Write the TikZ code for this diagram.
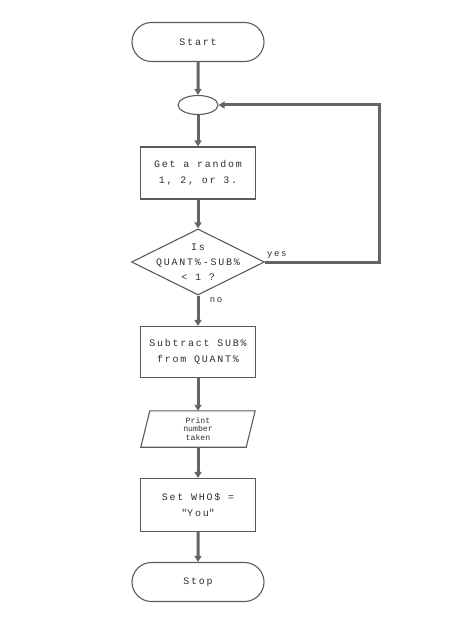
\documentclass[tikz,border=0pt]{standalone}
\usepackage{fontspec}
\setmainfont{Liberation Mono}[LetterSpace=18]
\newfontfamily\tightfont{Liberation Mono}
\usetikzlibrary{shapes.geometric,shapes.misc,arrows.meta,calc}
\definecolor{ink}{HTML}{4A4A4A}
\definecolor{edge}{HTML}{5A5A5A}
\definecolor{txt}{HTML}{2E2E2E}
\tikzset{
  shapebox/.style={draw=edge,line width=1.1bp,inner sep=0pt,align=center,font=\fontsize{10}{16}\selectfont,text=txt},
  term/.style={shapebox,rounded rectangle,minimum width=132bp,minimum height=39bp},
  procbox/.style={shapebox,rectangle,minimum width=115bp,minimum height=52bp},
  flow/.style={draw=ink!85,line width=3bp,-{Triangle[length=6bp,width=7bp]}},
  lbl/.style={font=\fontsize{9}{10}\selectfont,text=txt,inner sep=0pt}
}
\begin{document}
\begin{tikzpicture}[x=1bp,y=1bp]
\useasboundingbox (0,0) rectangle (450,-630);
\node[term] (start) at (198,-42) {Start};
\node[shapebox,ellipse,minimum width=40bp,minimum height=19bp] (join) at (198,-105) {};
\node[procbox] (get) at (198,-173) {Get a random\\1, 2, or 3.};
\node[shapebox,diamond,minimum width=133bp,minimum height=66bp] (dec) at (198,-262) {};
\node[align=center,font=\fontsize{10}{15}\selectfont,text=txt,inner sep=0pt] (dectext) at (dec.center) {Is\\QUANT\%-SUB\%\\< 1 ?};
\node[procbox,minimum height=51bp] (sub) at (198,-352) {Subtract SUB\%\\from QUANT\%};
\node[inner sep=0pt,minimum width=105bp,minimum height=36bp,align=center,font=\tightfont\fontsize{8.2}{8.3}\selectfont,text=txt] (print) at (198,-429) {Print\\number\\taken};
\draw[draw=edge,line width=1.1bp] ($(print.north west)+(4.5bp,0)$) -- ($(print.north east)+(4.5bp,0)$) -- ($(print.south east)+(-4.5bp,0)$) -- ($(print.south west)+(-4.5bp,0)$) -- cycle;
\node[procbox,minimum height=53bp] (set) at (198,-505) {Set WHO\$ =\\\textquotedbl You\textquotedbl};
\node[term] (stop) at (198,-582) {Stop};
\coordinate (c1) at (379,-262);
\coordinate (c2) at (379,-105);
\draw[flow] (start) -- (join);
\draw[flow] (join) -- (get);
\draw[flow] (get) -- (dec.north);
\draw[flow] (dec.east) -- (c1) -- (c2) -- (join.east);
\draw[flow] (dec.south) -- (sub);
\draw[flow] (sub) -- (print.north);
\draw[flow] (print.south) -- (set);
\draw[flow] (set) -- (stop);
\node[lbl,anchor=south west] (yes) at (267,-259) {yes};
\node[lbl] (no) at (216,-300) {no};
\end{tikzpicture}
\end{document}
